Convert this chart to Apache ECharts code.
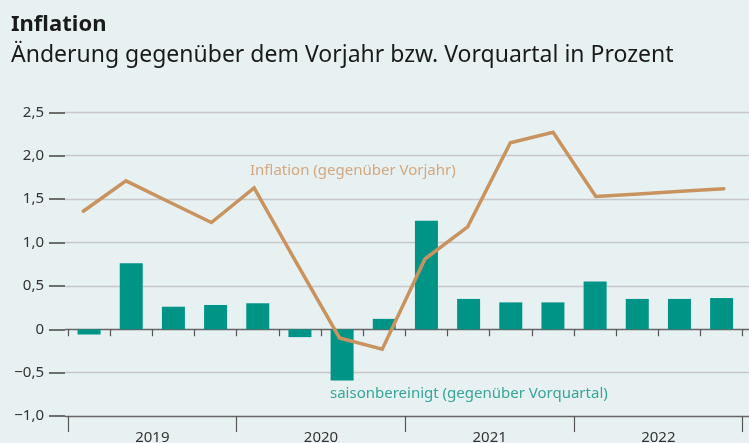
<!DOCTYPE html>
<html>
<head>
<meta charset="utf-8">
<script src="https://cdn.jsdelivr.net/npm/echarts@6/dist/echarts.min.js"></script>
<style>
  html, body { margin: 0; padding: 0; background: #e8f1f2; }
  #chart { width: 749px; height: 443px; }
</style>
</head>
<body>
<div id="chart"></div>
<script>
// Quartale 2019-2022
const quarters = ['Q1 2019', 'Q2 2019', 'Q3 2019', 'Q4 2019',
  'Q1 2020', 'Q2 2020', 'Q3 2020', 'Q4 2020',
  'Q1 2021', 'Q2 2021', 'Q3 2021', 'Q4 2021',
  'Q1 2022', 'Q2 2022', 'Q3 2022', 'Q4 2022'];
const years = ['2019', '2020', '2021', '2022'];
// saisonbereinigt, gegenüber Vorquartal
const vorquartal = [-0.06, 0.76, 0.26, 0.28, 0.30, -0.09, -0.59, 0.12,
  1.25, 0.35, 0.31, 0.31, 0.55, 0.35, 0.35, 0.36];
// Inflation gegenüber Vorjahr
const vorjahr = [1.36, 1.71, 1.47, 1.23, 1.63, 0.76, -0.10, -0.23,
  0.81, 1.18, 2.15, 2.27, 1.53, 1.56, 1.59, 1.62];
const yTickLabels = ['−1,0', '−0,5', '0', '0,5', '1,0', '1,5', '2,0', '2,5'];

const font = 'Noto Sans, sans-serif';
const gridTop = 112.3, gridHeight = 303.8;

const chart = echarts.init(document.getElementById('chart'));
const option = {
  backgroundColor: '#e8f1f2',
  animation: false,
  textStyle: { fontFamily: font },
  title: [
    { text: 'Inflation', left: 6, top: 9,
      textStyle: { fontSize: 22, fontWeight: 'bold', color: '#1a1a1a', fontFamily: font } },
    { text: 'Änderung gegenüber dem Vorjahr bzw. Vorquartal in Prozent', left: 6, top: 39,
      textStyle: { fontSize: 23, fontWeight: 'normal', color: '#1a1a1a', fontFamily: font } }
  ],
  grid: [
    { left: 65, right: 0, top: gridTop, height: gridHeight, outerBoundsMode: 'none' },
    { left: 68, width: 674.7, top: gridTop, height: gridHeight, outerBoundsMode: 'none' },
    { left: 61.9, width: 683.4, top: gridTop, height: gridHeight, outerBoundsMode: 'none' }
  ],
  xAxis: [
    { gridIndex: 0, type: 'value', show: false },
    { gridIndex: 1, type: 'category', data: quarters,
      axisLine: { show: false },
      axisTick: { show: true, interval: 0, length: 7, lineStyle: { color: '#555', width: 1.2 } },
      axisLabel: { show: false } },
    { gridIndex: 1, type: 'category', data: years, position: 'bottom',
      axisLine: { show: false },
      axisTick: { show: true, interval: 0, length: 16, lineStyle: { color: '#555', width: 1.2 } },
      axisLabel: { show: true, margin: 14, fontSize: 15, color: '#333', fontFamily: font } },
    { gridIndex: 2, type: 'category', data: quarters, show: false }
  ],
  yAxis: [
    { gridIndex: 0, type: 'value', min: -1, max: 2.5, interval: 0.5,
      axisLine: { show: false },
      axisTick: { show: true, length: 16, lineStyle: { color: '#444', width: 1.5 } },
      axisLabel: { margin: 21, fontSize: 15, color: '#333', fontFamily: font,
        formatter: function (v) { return yTickLabels[Math.round((v + 1) / 0.5)]; } },
      splitLine: { show: true, lineStyle: { width: 1.3,
        color: ['#666', '#c6c8c9', '#666', '#c6c8c9', '#c6c8c9', '#c6c8c9', '#c6c8c9', '#c6c8c9'] } } },
    { gridIndex: 1, type: 'value', min: -1, max: 2.5, interval: 0.5, show: false,
      splitLine: { show: false } },
    { gridIndex: 2, type: 'value', min: -1, max: 2.5, interval: 0.5, show: false,
      splitLine: { show: false } }
  ],
  series: [
    { name: 'saisonbereinigt (gegenüber Vorquartal)', type: 'bar',
      xAxisIndex: 1, yAxisIndex: 1, data: vorquartal, barWidth: 23,
      itemStyle: { color: '#009487' } },
    { name: 'Inflation (gegenüber Vorjahr)', type: 'line',
      xAxisIndex: 3, yAxisIndex: 2, data: vorjahr, symbol: 'none',
      lineStyle: { color: '#c8935f', width: 3.5, cap: 'round', join: 'miter' } }
  ],
  graphic: [
    { type: 'text', left: 250, top: 163,
      style: { text: 'Inflation (gegenüber Vorjahr)', fontSize: 15, fontFamily: font, fill: '#d4a77e' } },
    { type: 'text', left: 330, top: 386,
      style: { text: 'saisonbereinigt (gegenüber Vorquartal)', fontSize: 15, fontFamily: font, fill: '#35a597' } }
  ]
};
chart.setOption(option);
</script>
</body>
</html>
